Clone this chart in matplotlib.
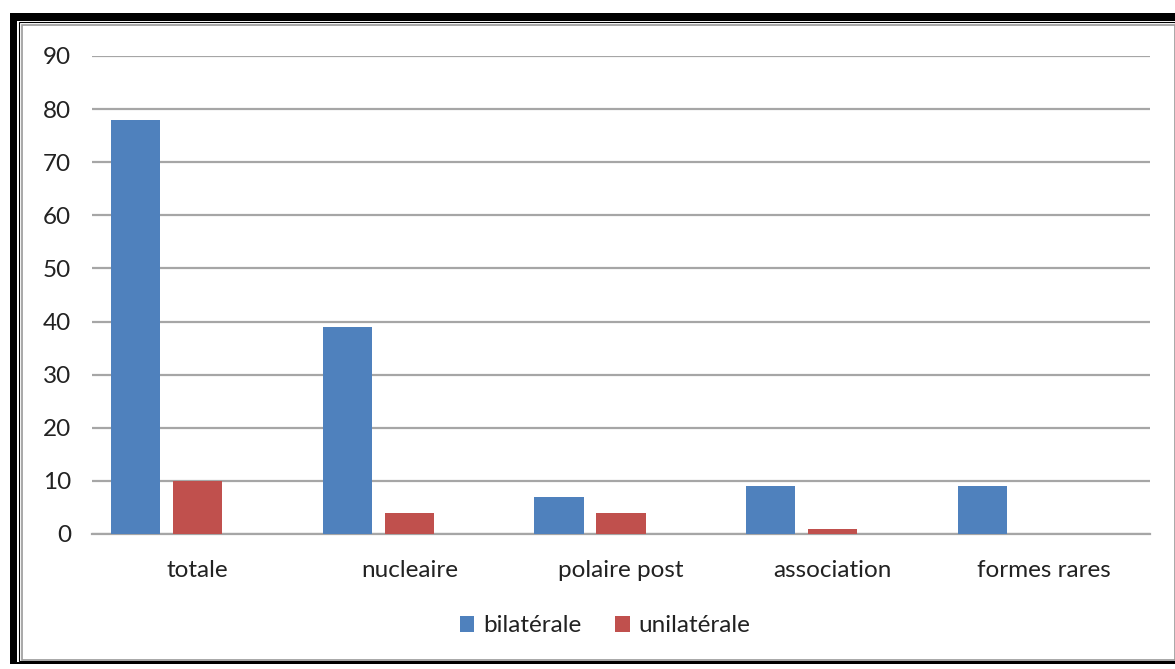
import matplotlib.pyplot as plt
import numpy as np
from matplotlib.patches import Rectangle

categories = ["totale", "nucleaire", "polaire post", "association", "formes rares"]
bilaterale = [78, 39, 7, 9, 9]
unilaterale = [10, 4, 4, 1, 0]
series_names = ["bilatérale", "unilatérale"]
yticks = list(range(0, 100, 10))

blue = "#4F81BD"
red = "#C0504D"
grid_grey = "#A6A6A6"
text_col = "#222222"

plt.rcParams["font.family"] = ["Lato", "DejaVu Sans"]

fig = plt.figure(figsize=(11.75, 6.69), dpi=100)
W, H = 1175, 669


def frame_rect(x0, y0, x1, y1, **kw):
    # pixel box (top-left origin) -> figure rectangle, kept behind the axes
    fig.patches.append(
        Rectangle((x0 / W, 1 - y1 / H), (x1 - x0) / W, (y1 - y0) / H,
                  transform=fig.transFigure, figure=fig, zorder=-5, **kw)
    )


# Double border around the chart
frame_rect(10, 13, 1175, 664, facecolor="black", edgecolor="none")
frame_rect(17, 21, 1175, 662, facecolor="white", edgecolor="none")
frame_rect(19, 22, 1175, 661, facecolor="none", edgecolor="black", linewidth=0.8)
frame_rect(22, 25, 1175, 660, facecolor="white", edgecolor="#9A9A9A", linewidth=1.2)

ax = fig.add_axes([92 / W, 1 - 534 / H, (1150 - 92) / W, (534 - 56) / H])
ax.set_facecolor("none")
ax.set_zorder(2)

x = np.arange(len(categories))
width = 0.232
ax.bar(x - 0.293, bilaterale, width, color=blue, label=series_names[0], zorder=3)
ax.bar(x + 0.0, unilaterale, width, color=red, label=series_names[1], zorder=3)

ax.set_xlim(-0.5, len(categories) - 0.5)
ax.set_ylim(0, 90)
ax.set_yticks(yticks)
ax.set_xticks(x)
ax.set_xticklabels(categories)
ax.yaxis.grid(True, color=grid_grey, linewidth=1.6, zorder=0)
ax.tick_params(axis="both", length=0, labelsize=17.5, colors=text_col)
ax.tick_params(axis="y", pad=15)
ax.tick_params(axis="x", pad=19)
for s in ["top", "right", "left"]:
    ax.spines[s].set_visible(False)
ax.spines["bottom"].set_color(grid_grey)
ax.spines["bottom"].set_linewidth(1.6)

ax.legend(loc="center", bbox_to_anchor=(605 / W, 1 - 626 / H),
          bbox_transform=fig.transFigure, ncol=2, frameon=False,
          fontsize=17.5, handlelength=0.6, handleheight=0.6,
          handletextpad=0.35, columnspacing=1.4, labelcolor=text_col)

fig.savefig("out.png", dpi=100)
